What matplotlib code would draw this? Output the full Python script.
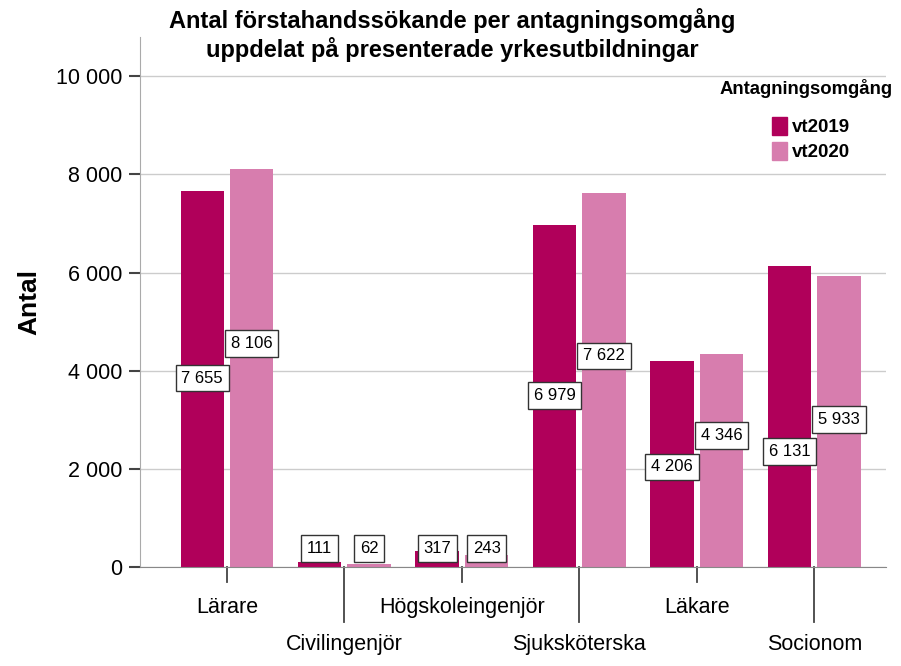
import numpy as np
import matplotlib.pyplot as plt
from matplotlib.patches import Patch
from matplotlib.ticker import FuncFormatter

categories = ["Lärare", "Civilingenjör", "Högskoleingenjör", "Sjuksköterska", "Läkare", "Socionom"]
vt2019 = [7655, 111, 317, 6979, 4206, 6131]
vt2020 = [8106, 62, 243, 7622, 4346, 5933]
series_names = ["vt2019", "vt2020"]
# y position (data units) of each value label box, as placed in the source chart
label_y_2019 = [3850, 380, 380, 3500, 2040, 2350]
label_y_2020 = [4550, 380, 380, 4300, 2680, 3000]

c2019 = "#B0005A"
c2020 = "#D77DAE"

plt.rcParams["font.family"] = ["Liberation Sans", "DejaVu Sans"]

fig = plt.figure(figsize=(9.01, 6.66), dpi=100)
ax = fig.add_axes([140 / 901, 1 - 567 / 666, (886 - 140) / 901, (567 - 37) / 666])

x = np.arange(len(categories))
w = 0.37
off = 0.21
ax.bar(x - off, vt2019, w, color=c2019, zorder=2)
ax.bar(x + off, vt2020, w, color=c2020, zorder=2)

box = dict(boxstyle="square,pad=0.35", fc="white", ec="#333333", lw=1)
for i in range(len(categories)):
    ax.text(x[i] - off, label_y_2019[i], f"{vt2019[i]:,}".replace(",", " "),
            ha="center", va="center", fontsize=12, bbox=box, zorder=4)
    ax.text(x[i] + off, label_y_2020[i], f"{vt2020[i]:,}".replace(",", " "),
            ha="center", va="center", fontsize=12, bbox=box, zorder=4)

ax.set_xlim(-0.74, 5.61)
ax.set_ylim(0, 10800)
ax.set_yticks(range(0, 10001, 2000))
ax.yaxis.set_major_formatter(FuncFormatter(lambda v, p: f"{int(v):,}".replace(",", " ")))
ax.grid(axis="y", color="#cccccc", lw=1, zorder=0)
ax.tick_params(axis="y", length=8, width=1.5, color="#444444", labelsize=15.5, pad=5)

# staggered category labels with short / long tick marks
ax.set_xticks(x)
ax.set_xticklabels([])
ax.tick_params(axis="x", length=0)
xtrans = ax.get_xaxis_transform()
for i, c in enumerate(categories):
    long = i % 2 == 1
    ax.plot([x[i], x[i]], [0, -0.104 if long else -0.028], transform=xtrans,
            color="#444444", lw=1.3, clip_on=False)
    ax.text(x[i], -0.147 if long else -0.0755, c, transform=xtrans,
            ha="center", va="center", fontsize=15.5)

for s in ["top", "right"]:
    ax.spines[s].set_visible(False)
ax.spines["left"].set_color("#aaaaaa")
ax.spines["bottom"].set_color("#888888")

ax.set_ylabel("Antal", fontsize=19, fontweight="bold", labelpad=10)

fig.text(452 / 901, 1 - 8 / 666, "Antal förstahandssökande per antagningsomgång\nuppdelat på presenterade yrkesutbildningar",
         ha="center", va="top", fontsize=17, fontweight="bold", linespacing=1.2)

handles = [Patch(color=c2019), Patch(color=c2020)]
fig.text(893 / 901, 1 - 88 / 666, "Antagningsomgång", ha="right", va="center", fontsize=13.3, fontweight="bold")
leg = fig.legend(handles, series_names, loc="upper left", bbox_to_anchor=(755 / 901, 1 - 100 / 666),
                 frameon=False, prop={"weight": "bold", "size": 13.5},
                 handlelength=0.8, handleheight=1.1, handletextpad=0.25, labelspacing=0.3)

fig.savefig("out.png", dpi=100)
